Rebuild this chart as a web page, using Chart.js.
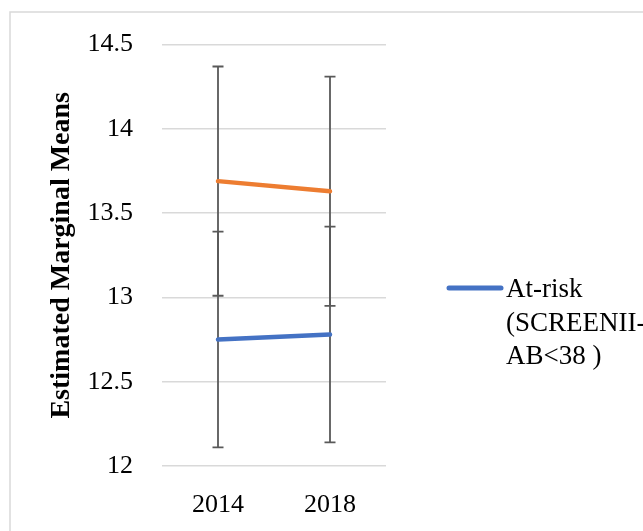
<!DOCTYPE html>
<html>
<head>
<meta charset="utf-8">
<script src="https://cdn.jsdelivr.net/npm/chart.js@4.4.1/dist/chart.umd.min.js"></script>
<style>
  html, body { margin: 0; padding: 0; background: #ffffff; }
  #wrap { position: relative; width: 643px; height: 531px; }
</style>
</head>
<body>
<div id="wrap"><canvas id="c" width="643" height="531"></canvas></div>
<script>
// ---- data ----
const years = ['2014', '2018'];
const atRiskMeans = [12.75, 12.78];
const atRiskLower = [12.11, 12.14];
const atRiskUpper = [13.39, 13.42];
const notAtRiskMeans = [13.69, 13.63];
const notAtRiskLower = [13.01, 12.95];
const notAtRiskUpper = [14.37, 14.31];
const yMin = 12, yMax = 14.5, yStep = 0.5;
const yTitle = 'Estimated Marginal Means';
const legendLines = ['At-risk', '(SCREENII-', 'AB<38 )'];

const BLUE = '#4472C4', ORANGE = '#ED7D31', ERR = '#595959', GRID = '#d9d9d9';
const SERIF = "'Liberation Serif', 'DejaVu Serif', serif";

const errorBars = {
  id: 'errorBars',
  beforeDatasetsDraw(chart) {
    const ctx = chart.ctx, x = chart.scales.x, y = chart.scales.y;
    const sets = [[atRiskLower, atRiskUpper], [notAtRiskLower, notAtRiskUpper]];
    ctx.save();
    ctx.strokeStyle = ERR;
    ctx.lineWidth = 1.8;
    sets.forEach(([lo, hi]) => {
      years.forEach((yr, i) => {
        const px = x.getPixelForValue(i);
        const y1 = y.getPixelForValue(lo[i]);
        const y2 = y.getPixelForValue(hi[i]);
        ctx.beginPath();
        ctx.moveTo(px, y1); ctx.lineTo(px, y2);
        ctx.moveTo(px - 5.5, y1); ctx.lineTo(px + 5.5, y1);
        ctx.moveTo(px - 5.5, y2); ctx.lineTo(px + 5.5, y2);
        ctx.stroke();
      });
    });
    ctx.restore();
  }
};

const frameAndLegend = {
  id: 'frameAndLegend',
  beforeDraw(chart) {
    const ctx = chart.ctx;
    ctx.save();
    ctx.fillStyle = '#ffffff';
    ctx.fillRect(0, 0, chart.width, chart.height);
    ctx.strokeStyle = GRID;
    ctx.lineWidth = 1.5;
    ctx.strokeRect(10, 12, 800, 700);
    ctx.restore();
  },
  afterDraw(chart) {
    const ctx = chart.ctx;
    ctx.save();
    ctx.strokeStyle = BLUE;
    ctx.lineWidth = 5;
    ctx.lineCap = 'round';
    ctx.beginPath();
    ctx.moveTo(449, 288); ctx.lineTo(501, 288);
    ctx.stroke();
    ctx.fillStyle = '#000';
    ctx.font = '27px ' + SERIF;
    ctx.textBaseline = 'alphabetic';
    ctx.textAlign = 'left';
    const baselines = [297, 330.5, 364];
    legendLines.forEach((t, i) => ctx.fillText(t, 506, baselines[i]));
    ctx.restore();
  }
};

new Chart(document.getElementById('c'), {
  type: 'line',
  data: {
    labels: years,
    datasets: [
      { label: 'At-risk (SCREENII-AB<38 )', data: atRiskMeans, borderColor: BLUE, backgroundColor: BLUE,
        borderWidth: 4.5, pointRadius: 0, borderCapStyle: 'round', tension: 0 },
      { label: 'Not at-risk', data: notAtRiskMeans, borderColor: ORANGE, backgroundColor: ORANGE,
        borderWidth: 4.5, pointRadius: 0, borderCapStyle: 'round', tension: 0 }
    ]
  },
  options: {
    responsive: false,
    animation: false,
    layout: { padding: { top: 43, right: 257, bottom: 0, left: 0 } },
    plugins: { legend: { display: false }, tooltip: { enabled: false } },
    scales: {
      x: {
        offset: true,
        grid: { display: false, drawTicks: false },
        border: { display: false },
        ticks: { color: '#000', font: { family: SERIF, size: 26 }, padding: 24 },
        afterFit(s) { s.height = 65; }
      },
      y: {
        min: yMin, max: yMax,
        grid: { color: GRID, lineWidth: 1.5, drawTicks: false },
        border: { display: false },
        ticks: { stepSize: yStep, color: '#000', font: { family: SERIF, size: 26 }, padding: 29,
                 callback: (v) => String(Math.round(v * 10) / 10) },
        title: { display: true, text: yTitle, color: '#000',
                 font: { family: SERIF, size: 28, weight: 'bold' }, padding: { top: 45, bottom: 0 } },
        afterFit(s) { s.width = 162; }
      }
    }
  },
  plugins: [frameAndLegend, errorBars]
});
</script>
</body>
</html>
